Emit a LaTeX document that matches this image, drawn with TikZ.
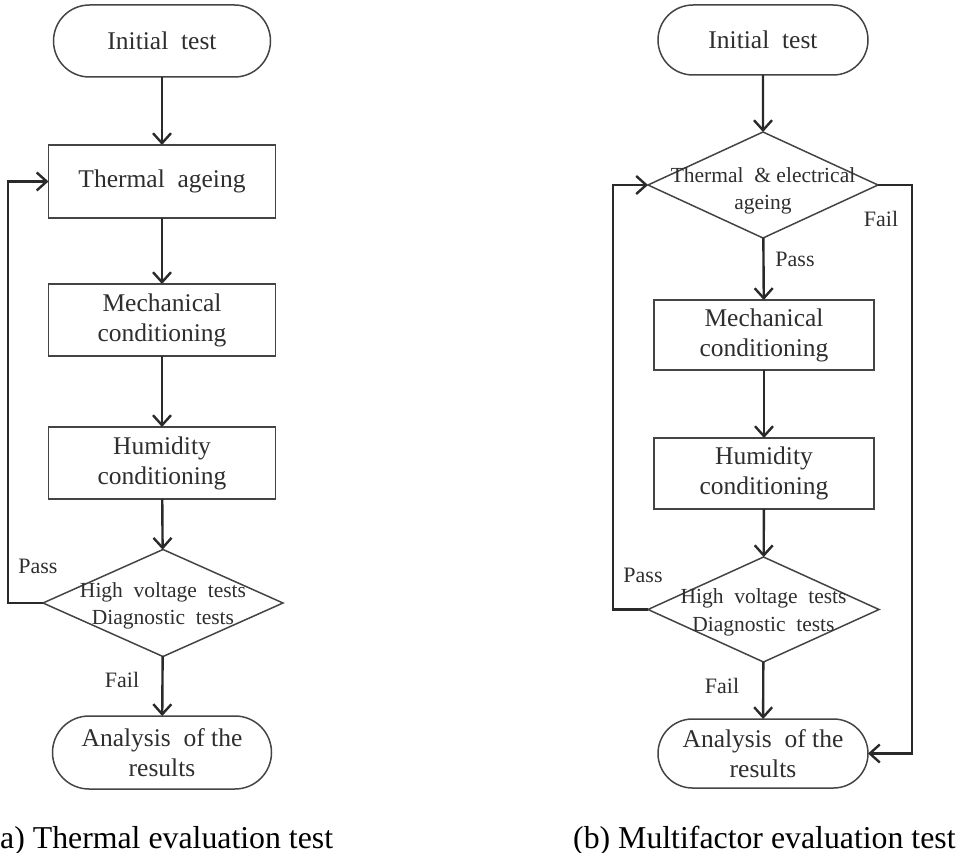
\documentclass[tikz,border=0pt]{standalone}
\usepackage{fontspec}
\setmainfont{Liberation Serif}
\usetikzlibrary{shapes.geometric,shapes.misc,arrows.meta}
\definecolor{txt}{HTML}{2E2E2E}
\definecolor{edge}{HTML}{444444}
\definecolor{conn}{HTML}{2A2A2A}
\begin{document}
\begin{tikzpicture}[x=1pt,y=-1pt,
  term/.style={rounded rectangle,draw=edge,line width=1.5pt,inner sep=0pt,outer sep=0pt,
    text=txt,align=center,font=\fontsize{25.5}{30}\selectfont},
  procbox/.style={rectangle,draw=edge,line width=1.5pt,inner sep=0pt,outer sep=0pt,
    text=txt,align=center,font=\fontsize{25.5}{30}\selectfont},
  decis/.style={diamond,draw=edge,line width=1.5pt,inner sep=0pt,outer sep=0pt},
  dtext/.style={text=txt,align=center,font=\fontsize{21.5}{27.5}\selectfont,inner sep=0pt},
  lab/.style={text=txt,font=\fontsize{22}{26}\selectfont,inner sep=0pt},
  capt/.style={text=black,font=\fontsize{31.8}{36}\selectfont,inner sep=0pt,anchor=base west},
  arr/.style={draw=conn,line width=2.4pt,-{Straight Barb[length=10pt,width=18pt,line width=2.4pt]}}
]
\useasboundingbox (0,0) rectangle (961,853);
% ---------- (a) ----------
\node[term,minimum width=217pt,minimum height=72pt] (initL) at (162,41) {Initial\ \ test};
\node[procbox,minimum width=227pt,minimum height=73pt] (thermL) at (162,181.5) {Thermal\ \ ageing};
\node[procbox,minimum width=227pt,minimum height=72pt] (mechL) at (162,320) {Mechanical\\conditioning};
\node[procbox,minimum width=227pt,minimum height=72pt] (humL) at (162,463) {Humidity\\conditioning};
\node[decis,minimum width=240pt,minimum height=107pt] (diaL) at (163,603) {};
\node[dtext] (diaLt) at (163,606) {High\ \ voltage\ \ tests\\Diagnostic\ \ tests};
\node[term,minimum width=219pt,minimum height=73pt] (anaL) at (162,752.5) {Analysis\ \ of the\\results};
\node[lab] (passL) at (38,566) {Pass};
\node[lab] (failL) at (122,680) {Fail};
\draw[arr] (initL) -- (thermL);
\draw[arr] (thermL) -- (mechL);
\draw[arr] (mechL) -- (humL);
\draw[arr] (humL) -- (diaL);
\draw[arr] (diaL) -- (anaL);
\draw[arr] (diaL.west) -- ++(-35,0) |- (thermL.west);
\node[capt] (capA) at (-10.6,848) {(a) Thermal evaluation test};
% ---------- (b) ----------
\node[term,minimum width=210pt,minimum height=70pt] (initR) at (763,40) {Initial\ \ test};
\node[decis,minimum width=230pt,minimum height=106pt] (diaR1) at (763,185) {};
\node[dtext] (diaR1t) at (763,191) {Thermal\ \ \&\ electrical\\ageing};
\node[procbox,minimum width=220pt,minimum height=70pt] (mechR) at (764,335) {Mechanical\\conditioning};
\node[procbox,minimum width=220pt,minimum height=71pt] (humR) at (764,473.5) {Humidity\\conditioning};
\node[decis,minimum width=231pt,minimum height=105pt] (diaR2) at (763.5,609.5) {};
\node[dtext] (diaR2t) at (763.5,612.5) {High\ \ voltage\ \ tests\\Diagnostic\ \ tests};
\node[term,minimum width=210pt,minimum height=69pt] (anaR) at (763,753.5) {Analysis\ \ of the\\results};
\node[lab] (failR1) at (881,219) {Fail};
\node[lab] (passR1) at (795,259) {Pass};
\node[lab] (passR2) at (643,575) {Pass};
\node[lab] (failR2) at (722,686) {Fail};
\draw[arr] (initR) -- (diaR1);
\draw[arr] (diaR1) -- (mechR);
\draw[arr] (mechR) -- (humR);
\draw[arr] (humR) -- (diaR2);
\draw[arr] (diaR2) -- (anaR);
\draw[arr] (diaR2.west) -- ++(-35,0) |- (diaR1.west);
\draw[arr] (diaR1.east) -- ++(34,0) |- (anaR.east);
\node[capt] (capB) at (573,848) {(b) Multifactor evaluation test};
\end{tikzpicture}
\end{document}
